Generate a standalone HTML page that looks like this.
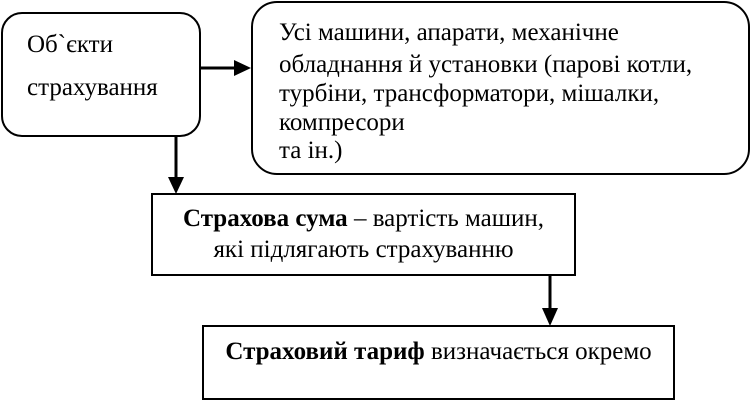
<!DOCTYPE html>
<html>
<head>
<meta charset="utf-8">
<style>
html,body{margin:0;padding:0;background:#fff;}
svg{display:block;}
text{font-family:"Liberation Serif","Noto Serif CJK SC",serif;font-size:25px;fill:#000;}
</style>
</head>
<body>
<svg width="752" height="402" viewBox="0 0 752 402" xmlns="http://www.w3.org/2000/svg">
  <!-- Box 1 -->
  <rect x="2" y="13" width="198" height="123" rx="20" ry="20" fill="#fff" stroke="#000" stroke-width="2"/>
  <text x="27" y="52">Об`єкти</text>
  <text x="27" y="95">страхування</text>

  <!-- Box 2 -->
  <rect x="252" y="2" width="497" height="172" rx="25" ry="25" fill="#fff" stroke="#000" stroke-width="2"/>
  <text x="279" y="40">Усі машини, апарати, механічне</text>
  <text x="279" y="72">обладнання й установки (парові котли,</text>
  <text x="279" y="101">турбіни, трансформатори, мішалки,</text>
  <text x="279" y="130">компресори</text>
  <text x="279" y="158">та ін.)</text>

  <!-- Arrow 1 -->
  <line x1="201" y1="68" x2="236" y2="68" stroke="#000" stroke-width="3"/>
  <polygon points="234,60 251,68 234,76" fill="#000"/>

  <!-- Arrow 2 -->
  <line x1="176" y1="137" x2="176" y2="180" stroke="#000" stroke-width="3"/>
  <polygon points="168,177 184,177 176,194" fill="#000"/>

  <!-- Box 3 -->
  <rect x="152" y="194" width="423" height="81" fill="#fff" stroke="#000" stroke-width="2"/>
  <text x="363.5" y="226" text-anchor="middle"><tspan font-weight="bold">Страхова сума</tspan> – вартість машин,</text>
  <text x="363.5" y="257" text-anchor="middle">які підлягають страхуванню</text>

  <!-- Arrow 3 -->
  <line x1="550" y1="276" x2="550" y2="311" stroke="#000" stroke-width="3"/>
  <polygon points="542,308 558,308 550,326" fill="#000"/>

  <!-- Box 4 -->
  <rect x="203" y="326" width="471" height="73" fill="#fff" stroke="#000" stroke-width="2"/>
  <text x="438.5" y="359" text-anchor="middle"><tspan font-weight="bold">Страховий тариф</tspan> визначається окремо</text>
</svg>
</body>
</html>
